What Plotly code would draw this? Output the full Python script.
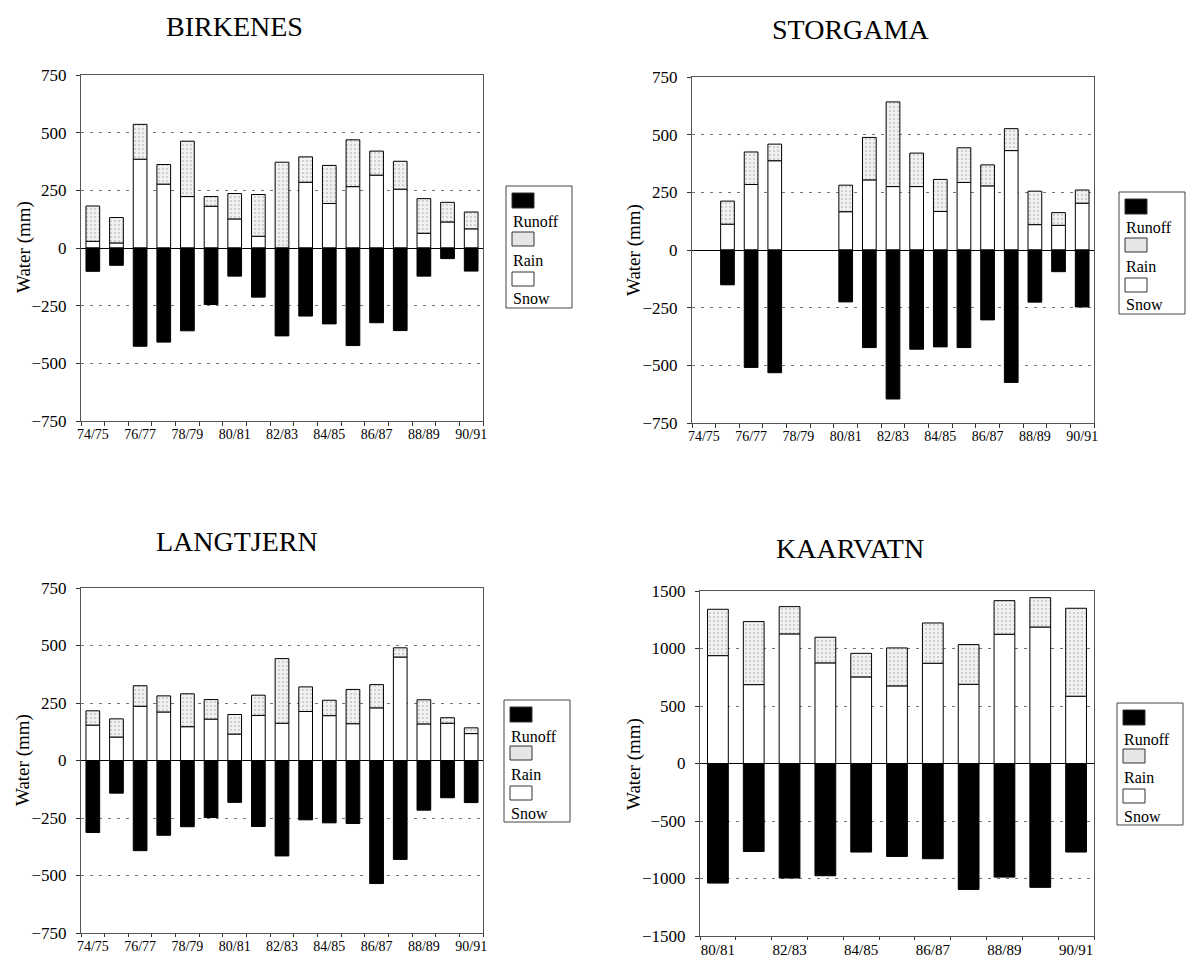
import plotly.graph_objects as go

W, H = 1186, 959

# ---------------- data ----------------
years_17 = ["74/75", "75/76", "76/77", "77/78", "78/79", "79/80", "80/81", "81/82",
            "82/83", "83/84", "84/85", "85/86", "86/87", "87/88", "88/89", "89/90", "90/91"]
years_11 = ["80/81", "81/82", "82/83", "83/84", "84/85", "85/86", "86/87", "87/88",
            "88/89", "89/90", "90/91"]

birkenes_snow = [29, 22, 385, 277, 223, 181, 126, 51, 0, 285, 193, 266, 316, 255, 64, 113, 83]
birkenes_rain = [153, 110, 151, 85, 240, 42, 110, 181, 372, 110, 165, 203, 104, 121, 150, 85, 73]
birkenes_runoff = [-101, -75, -426, -408, -359, -245, -122, -213, -381, -295, -329, -423, -324,
                   -358, -122, -46, -100]

storgama_snow = [None, 112, 284, 387, None, None, 166, 304, 275, 275, 167, 293, 278, 431, 110, 107, 203]
storgama_rain = [None, 100, 141, 72, None, None, 115, 184, 367, 145, 139, 150, 91, 95, 145, 55, 57]
storgama_runoff = [None, -151, -509, -532, None, None, -225, -423, -646, -430, -420, -423, -303,
                   -574, -226, -94, -247]

langtjern_snow = [154, 102, 236, 211, 147, 180, 115, 196, 162, 213, 195, 160, 229, 450, 159, 162, 117]
langtjern_rain = [62, 79, 89, 70, 143, 85, 85, 88, 281, 107, 67, 149, 101, 40, 105, 24, 25]
langtjern_runoff = [-313, -142, -392, -325, -288, -248, -182, -287, -415, -258, -271, -274, -535,
                    -430, -216, -162, -183]

kaarvatn_snow = [938, 686, 1127, 875, 753, 675, 872, 689, 1124, 1187, 585]
kaarvatn_rain = [403, 548, 237, 223, 205, 330, 350, 345, 292, 255, 765]
kaarvatn_runoff = [-1040, -765, -996, -976, -770, -808, -828, -1095, -988, -1077, -770]

titles = ["BIRKENES", "STORGAMA", "LANGTJERN", "KAARVATN"]
legend_labels = ["Runoff", "Rain", "Snow"]
y_title = "Water (mm)"

# ---------------- helpers ----------------
FONT = "Liberation Serif"


def px_x(x):
    return x / W


def px_y(y):
    return 1 - y / H


fig = go.Figure()

panels = [
    (years_17, birkenes_snow, birkenes_rain, birkenes_runoff, "", (81, 75, 483, 421), 750, 250, 14, 4),
    (years_17, storgama_snow, storgama_rain, storgama_runoff, "2", (692, 77, 1094, 423), 750, 250, 14, 4),
    (years_17, langtjern_snow, langtjern_rain, langtjern_runoff, "3", (81, 588, 483, 933), 750, 250, 14, 3),
    (years_11, kaarvatn_snow, kaarvatn_rain, kaarvatn_runoff, "4", (700, 591, 1094, 936), 1500, 500, 15, 3),
]

for cats, snow, rain, runoff, ax, box, yr, dt, xfs, xtl in panels:
    xa = "x" + ax
    ya = "y" + ax
    fig.add_trace(go.Bar(x=cats, y=snow, name="Snow", xaxis=xa, yaxis=ya,
                         marker=dict(color="white", line=dict(color="black", width=1)),
                         showlegend=False))
    fig.add_trace(go.Bar(x=cats, y=rain, name="Rain", xaxis=xa, yaxis=ya,
                         marker=dict(color="white", line=dict(color="black", width=1),
                                     pattern=dict(shape=".", fgcolor="#999999", bgcolor="#f1f1f1",
                                                  size=4, solidity=0.2)),
                         showlegend=False))
    fig.add_trace(go.Bar(x=cats, y=runoff, name="Runoff", xaxis=xa, yaxis=ya,
                         marker=dict(color="black", line=dict(color="black", width=1)),
                         showlegend=False))

    L, T, R, B = box
    ticktext = [c if i % 2 == 0 else "" for i, c in enumerate(cats)]
    xkey = "xaxis" + ax
    ykey = "yaxis" + ax
    fig.layout[xkey] = dict(
        domain=[px_x(L), px_x(R)], anchor=ya, type="category", automargin=False,
        categoryorder="array", categoryarray=cats, range=[-0.5, len(cats) - 0.5],
        tickmode="array", tickvals=cats, ticktext=ticktext, tickson="boundaries",
        ticks="outside", ticklen=xtl, tickcolor="#333", tickangle=0,
        showline=True, linecolor="#555", linewidth=1, mirror=True,
        showgrid=False, zeroline=False,
        tickfont=dict(family=FONT, size=xfs, color="black"),
    )
    fig.layout[ykey] = dict(
        domain=[px_y(B), px_y(T)], anchor=xa, range=[-yr, yr], automargin=False,
        tickmode="linear", tick0=-yr, dtick=dt,
        ticks="outside", ticklen=4, tickcolor="#333", ticklabelstandoff=6,
        showline=True, linecolor="#555", linewidth=1, mirror=True,
        showgrid=True, gridcolor="#777", gridwidth=1, griddash="3px,6px",
        zeroline=True, zerolinecolor="black", zerolinewidth=1,
        tickfont=dict(family=FONT, size=17, color="black"),
    )

annotations = []
shapes = []

title_pos = [(234, 27), (850, 30), (237, 541), (850, 548)]
for t, (x, y) in zip(titles, title_pos):
    annotations.append(dict(text=t, x=px_x(x), y=px_y(y), xref="paper", yref="paper",
                            showarrow=False, xanchor="center", yanchor="middle",
                            font=dict(family=FONT, size=28, color="black")))

ytitle_pos = [(24, 247), (634, 250), (23, 760), (634, 764)]
for (x, y) in ytitle_pos:
    annotations.append(dict(text=y_title, x=px_x(x), y=px_y(y), xref="paper", yref="paper",
                            showarrow=False, xanchor="center", yanchor="middle", textangle=-90,
                            font=dict(family=FONT, size=19, color="black")))

legend_pos = [(506, 186), (1119, 192), (504, 700), (1117, 703)]
swatch_fill = ["black", "#e6e6e6", "white"]
swatch_y = [(7, 22), (46, 60), (86, 100)]
label_y = [36, 74, 113]
for (L, T) in legend_pos:
    shapes.append(dict(type="rect", xref="paper", yref="paper",
                       x0=px_x(L), x1=px_x(L + 66), y0=px_y(T + 122), y1=px_y(T),
                       line=dict(color="#444", width=1), fillcolor="white", layer="above"))
    for lab, fc, (s0, s1), ly in zip(legend_labels, swatch_fill, swatch_y, label_y):
        shapes.append(dict(type="rect", xref="paper", yref="paper",
                           x0=px_x(L + 6), x1=px_x(L + 28), y0=px_y(T + s1), y1=px_y(T + s0),
                           line=dict(color="#333", width=1), fillcolor=fc, layer="above"))
        annotations.append(dict(text=lab, x=px_x(L + 5), y=px_y(T + ly), xref="paper", yref="paper",
                                showarrow=False, xanchor="left", yanchor="middle",
                                font=dict(family=FONT, size=16, color="black")))

fig.update_layout(
    width=W, height=H, margin=dict(l=0, r=0, t=0, b=0, pad=0, autoexpand=False),
    paper_bgcolor="white", plot_bgcolor="white",
    barmode="relative", bargap=0.42,
    showlegend=False,
    annotations=annotations, shapes=shapes,
    font=dict(family=FONT, color="black"),
)

fig.write_html("out.html", config={"displayModeBar": False},
               post_script="document.body.style.margin='0px';")
